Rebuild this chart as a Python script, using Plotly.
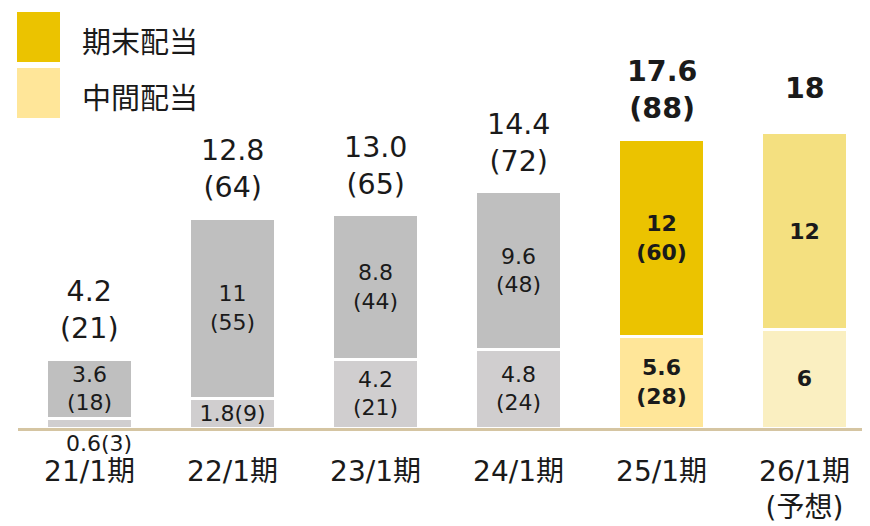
import plotly.graph_objects as go

categories = ["21/1期", "22/1期", "23/1期", "24/1期", "25/1期", "26/1期<br>(予想)"]
interim = [0.6, 1.8, 4.2, 4.8, 5.6, 6]          # 中間配当
year_end = [3.6, 11, 8.8, 9.6, 12, 12]          # 期末配当
interim_split = [3, 9, 21, 24, 28, None]         # 分割前換算 (括弧内)
year_end_split = [18, 55, 44, 48, 60, None]
total_labels = ["4.2", "12.8", "13.0", "14.4", "17.6", "18"]
total_split = ["21", "64", "65", "72", "88", None]

interim_colors = ["#d0cecf", "#d0cecf", "#d0cecf", "#d0cecf", "#ffe699", "#faefc1"]
year_end_colors = ["#bfbfbf", "#bfbfbf", "#bfbfbf", "#bfbfbf", "#ebc300", "#f4e080"]
bold = [False, False, False, False, True, True]

FONT = "DejaVu Sans, Noto Sans CJK JP, sans-serif"
x = list(range(len(categories)))

def fmt(v):
    return ("%g" % v)

def seg_text(v, s, b, inline=False):
    t = fmt(v) if s is None else (fmt(v) + ("" if inline else "<br>") + "(%d)" % s)
    return "<b>%s</b>" % t if b else t

int_text = []
for i in range(len(x)):
    if i == 0:
        int_text.append("")
    elif i == 1:
        int_text.append(seg_text(interim[i], interim_split[i], bold[i], inline=True))
    else:
        int_text.append(seg_text(interim[i], interim_split[i], bold[i]))
end_text = [seg_text(year_end[i], year_end_split[i], bold[i]) for i in range(len(x))]

fig = go.Figure()
fig.add_trace(go.Bar(
    x=x, y=interim, name="中間配当", width=0.6,
    marker=dict(color=interim_colors, line=dict(color="white", width=3)),
    text=int_text, textposition="inside", insidetextanchor="middle",
    textangle=0, constraintext="none",
    textfont=dict(family=FONT, size=22, color="#1a1a1a"),
))
fig.add_trace(go.Bar(
    x=x, y=year_end, name="期末配当", width=0.6,
    marker=dict(color=year_end_colors, line=dict(color="white", width=3)),
    text=end_text, textposition="inside", insidetextanchor="middle",
    textangle=0, constraintext="none",
    textfont=dict(family=FONT, size=22, color="#1a1a1a"),
))

annotations = []
for i in range(len(x)):
    tot = interim[i] + year_end[i]
    t = total_labels[i] if total_split[i] is None else total_labels[i] + "<br>(" + total_split[i] + ")"
    if bold[i]:
        t = "<b>%s</b>" % t
    annotations.append(dict(
        x=x[i], y=tot, xref="x", yref="y", text=t, showarrow=False,
        yanchor="bottom", yshift=12 if total_split[i] else 26,
        font=dict(family=FONT, size=28.5, color="#1a1a1a"),
    ))
# label of the thin first interim segment, drawn below the axis
annotations.append(dict(
    x=x[0], y=0, xref="x", yref="y",
    text=fmt(interim[0]) + "(%d)" % interim_split[0],
    showarrow=False, yanchor="top", yshift=-1, xshift=9,
    font=dict(family=FONT, size=22, color="#1a1a1a"),
))

# page body has an 8px margin: figure is sized/positioned to compensate
W, H = 862, 518
ML, MR, MT, MB = 10, 0, 0, 98
pw, ph = W - ML - MR, H - MT - MB
def px_x(p):
    return (p - ML) / pw
def px_y(p):
    return (H - MB - p) / ph

# custom legend (large swatches)
legend_items = [("期末配当", "#ebc300"), ("中間配当", "#ffe699")]
shapes = []
for k, (name, col) in enumerate(legend_items):
    top = 4 + k * 56
    shapes.append(dict(type="rect", xref="paper", yref="paper",
                       x0=px_x(9), x1=px_x(52), y0=px_y(top + 50), y1=px_y(top),
                       fillcolor=col, line=dict(width=0)))
    annotations.append(dict(xref="paper", yref="paper", x=px_x(72), y=px_y(top + 28),
                            xanchor="left", yanchor="middle", text=name, showarrow=False,
                            font=dict(family="Noto Sans CJK JP, sans-serif", size=29, color="#1a1a1a")))

fig.update_layout(
    width=W, height=H, barmode="stack", showlegend=False,
    margin=dict(l=ML, r=MR, t=MT, b=MB, autoexpand=False),
    plot_bgcolor="white", paper_bgcolor="white",
    xaxis=dict(range=[-0.5, -0.5 + pw / 143.0], tickvals=x, ticktext=categories,
               showline=True, linecolor="#d5c5a2", linewidth=3, showgrid=False,
               zeroline=False, ticks="", ticklabelstandoff=16, automargin=False,
               tickfont=dict(family=FONT, size=28, color="#1a1a1a")),
    yaxis=dict(range=[0, ph / 16.4], visible=False, showgrid=False, zeroline=False,
               automargin=False),
    annotations=annotations, shapes=shapes,
    uniformtext=dict(mode=False),
)
fig.write_html("out.html")
